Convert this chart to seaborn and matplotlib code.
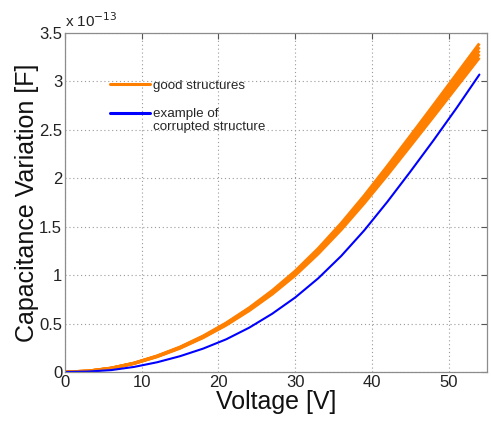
import matplotlib
matplotlib.use("Agg")
import matplotlib.pyplot as plt
import seaborn as sns
import pandas as pd
from matplotlib.lines import Line2D

# ---- data (capacitance in units of 1e-13 F) ----
voltage = [0, 3, 6, 9, 12, 15, 18, 21, 24, 27, 30, 33, 36, 39, 42, 45, 48, 51, 54]

good_upper = [0, 0.0092, 0.0399, 0.092, 0.1656, 0.2575, 0.371, 0.506, 0.662, 0.840,
              1.042, 1.275, 1.536, 1.821, 2.125, 2.437, 2.753, 3.072, 3.391]
good_mid_upper = [0, 0.0091, 0.0394, 0.091, 0.1638, 0.2548, 0.367, 0.5004, 0.655, 0.831,
                  1.031, 1.262, 1.520, 1.802, 2.102, 2.411, 2.724, 3.039, 3.354]
good_mid = [0, 0.009, 0.039, 0.090, 0.162, 0.252, 0.363, 0.495, 0.648, 0.822,
            1.020, 1.248, 1.503, 1.782, 2.079, 2.385, 2.694, 3.006, 3.318]
good_mid_lower = [0, 0.0089, 0.0386, 0.089, 0.1602, 0.2492, 0.359, 0.4896, 0.641, 0.813,
                  1.009, 1.234, 1.486, 1.762, 2.056, 2.359, 2.664, 2.973, 3.282]
good_lower = [0, 0.0088, 0.0381, 0.088, 0.1584, 0.2465, 0.355, 0.4841, 0.634, 0.804,
              0.998, 1.221, 1.470, 1.743, 2.033, 2.333, 2.635, 2.940, 3.245]

corrupted = [0, 0.0045, 0.0195, 0.0525, 0.1005, 0.1635, 0.2415, 0.3375, 0.4575, 0.6015,
             0.7695, 0.9675, 1.1985, 1.4625, 1.7565, 2.0685, 2.3895, 2.7225, 3.0705]

x_ticks = [0, 10, 20, 30, 40, 50]
y_ticks = [0, 0.5, 1, 1.5, 2, 2.5, 3, 3.5]
y_tick_labels = ["0", "0.5", "1", "1.5", "2", "2.5", "3", "3.5"]

good_sets = {"s1": good_upper, "s2": good_mid_upper, "s3": good_mid,
             "s4": good_mid_lower, "s5": good_lower}

rows = []
for name, vals in good_sets.items():
    for v, c in zip(voltage, vals):
        rows.append({"structure": name, "V": v, "C": c})
df_good = pd.DataFrame(rows)
df_bad = pd.DataFrame({"V": voltage, "C": corrupted})

# ---- style ----
sns.set_style("white")
plt.rcParams["font.family"] = ["Liberation Sans", "DejaVu Sans"]

ORANGE = "#ff8000"
BLUE = "#0000ff"

fig = plt.figure(figsize=(4.91, 4.25), dpi=100)
ax = fig.add_axes([0.1324, 0.1247, 0.8596, 0.7977])

sns.lineplot(data=df_good, x="V", y="C", units="structure", estimator=None,
             color=ORANGE, lw=2.2, legend=False, ax=ax,
             solid_joinstyle="round", solid_capstyle="butt")
sns.lineplot(data=df_bad, x="V", y="C", color=BLUE, lw=1.5, legend=False, ax=ax,
             solid_joinstyle="round")

ax.set_xlim(0, 55)
ax.set_ylim(0, 3.5)
ax.set_xticks(x_ticks)
ax.set_yticks(y_ticks)
ax.set_yticklabels(y_tick_labels)
ax.tick_params(axis="both", which="both", direction="in", top=True, right=True,
               labelsize=12, length=4, color="#555555", labelcolor="#222222", pad=2)
for s in ax.spines.values():
    s.set_color("#8c8c8c")
    s.set_linewidth(0.9)
ax.grid(True, linestyle=(0, (1, 2.5)), color="#9a9a9a", linewidth=0.8)

ax.set_xlabel("Voltage [V]", fontsize=18, labelpad=0, color="#111111")
ax.set_ylabel("Capacitance Variation [F]", fontsize=18, labelpad=0, color="#111111")

ax.text(0.0, 1.008, r"x 10$^{-13}$", transform=ax.transAxes, fontsize=11,
        ha="left", va="bottom", color="#222222")

handles = [Line2D([0], [0], color=ORANGE, lw=2.2),
           Line2D([0], [0], color=BLUE, lw=2.2)]
labels = ["good structures", "example of\ncorrupted structure"]
leg = ax.legend(handles, labels, loc="upper left", bbox_to_anchor=(0.095, 0.878),
                frameon=False, fontsize=9.6, handlelength=3.0, handletextpad=0.2,
                labelspacing=1.2, borderaxespad=0)
for t in leg.get_texts():
    t.set_linespacing(1.1)
# align the blue handle with the first text line, as in the original
blue_handle = leg.legend_handles[1]
yd = blue_handle.get_ydata()
blue_handle.set_ydata([y + 5.3 for y in yd])

fig.savefig("out.png", dpi=100)
